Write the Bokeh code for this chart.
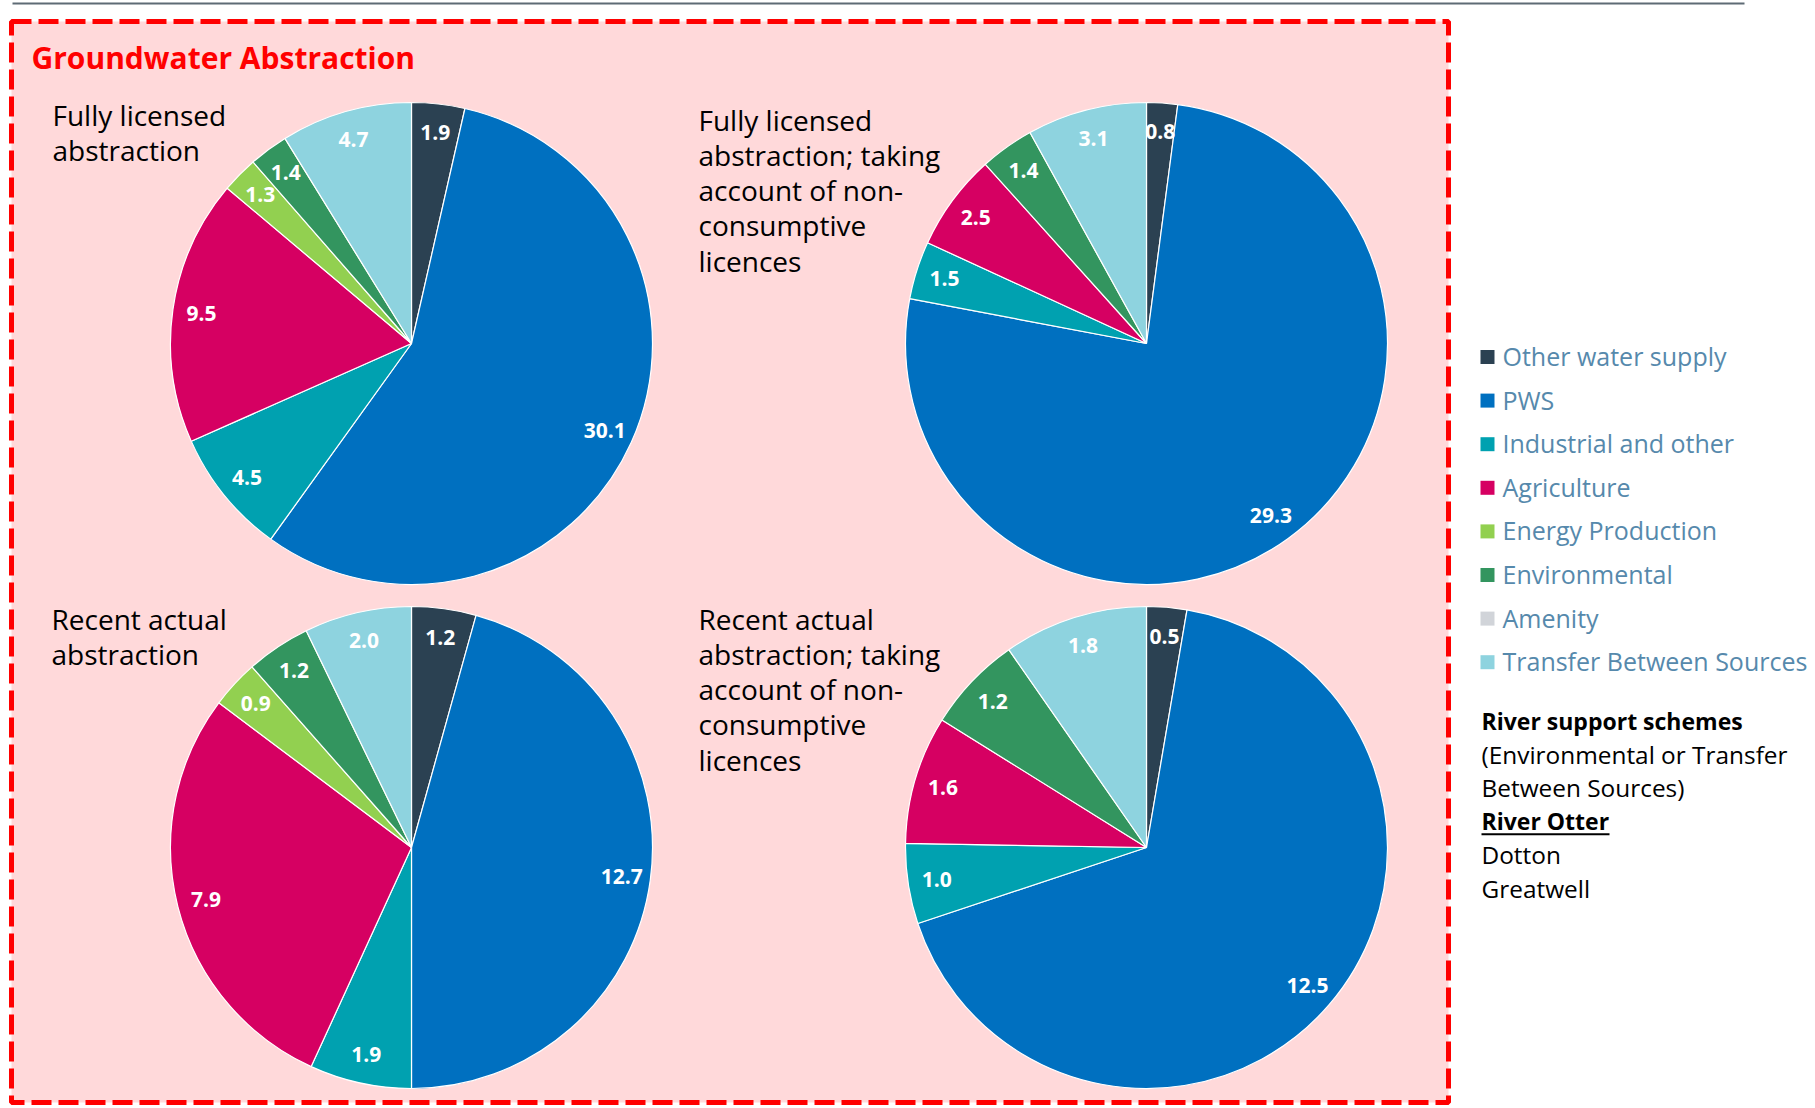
import math
from bokeh.plotting import figure
from bokeh.models import Range1d, ColumnDataSource
from bokeh.embed import file_html
from bokeh.resources import INLINE
from bokeh.core.properties import value

# ---------------- data ----------------
categories = ["Other water supply", "PWS", "Industrial and other", "Agriculture",
              "Energy Production", "Environmental", "Amenity", "Transfer Between Sources"]
colors = ["#2B4152", "#0070C0", "#00A1B0", "#D60062", "#92D050", "#33955F", "#D1D4D9", "#8ED3DF"]

fully_licensed = [1.9, 30.1, 4.5, 9.5, 1.3, 1.4, 0.0, 4.7]
fully_licensed_nc = [0.8, 29.3, 1.5, 2.5, 0.0, 1.4, 0.0, 3.1]
recent_actual = [1.2, 12.7, 1.9, 7.9, 0.9, 1.2, 0.0, 2.0]
recent_actual_nc = [0.5, 12.5, 1.0, 1.6, 0.0, 1.2, 0.0, 1.8]

title_text = "Groundwater Abstraction"
pie_titles = [
    ["Fully licensed", "abstraction"],
    ["Fully licensed", "abstraction; taking", "account of non-", "consumptive", "licences"],
    ["Recent actual", "abstraction"],
    ["Recent actual", "abstraction; taking", "account of non-", "consumptive", "licences"],
]
notes = ["River support schemes", "(Environmental or Transfer", "Between Sources)",
         "River Otter", "Dotton", "Greatwell"]

# ---------------- layout ----------------
W, H = 1812, 1106


def X(fx):
    return fx


def Y(fy):
    return H - fy


p = figure(width=W, height=H, x_range=Range1d(0, W), y_range=Range1d(0, H),
           output_backend="svg", toolbar_location=None, min_border=0,
           x_axis_type=None, y_axis_type=None)
p.grid.visible = False
p.outline_line_color = None
p.background_fill_color = "white"
p.border_fill_color = "white"

FONT = value("Open Sans")

# top divider line
p.segment(x0=[X(12)], y0=[Y(3)], x1=[X(1744)], y1=[Y(3)], line_color="#5E6B75", line_width=2)

# pink box with dashed red border
p.quad(left=[X(11)], right=[X(1448)], top=[Y(21)], bottom=[Y(1102)],
       fill_color="#FFD9DA", line_color="#FF0000", line_width=5, line_dash="20 7")

# title
p.text(x=[X(31)], y=[Y(57)], text=[title_text], text_font=FONT, text_font_style="bold",
       text_font_size=value("30px"), text_color="#FF0000", text_align="left",
       text_baseline="middle")

# pies
pie_data = [fully_licensed, fully_licensed_nc, recent_actual, recent_actual_nc]
centers = [(411, 343), (1146, 343), (411, 847), (1146, 847)]
title_pos = [(52, 114.5), (698, 119), (51, 618), (698, 618)]
R = 241
LINE_STEP = 35.3

for vals, (fcx, fcy), lines, (tx, ty) in zip(pie_data, centers, pie_titles, title_pos):
    total = sum(vals)
    cx, cy = X(fcx), Y(fcy)
    theta = 0.0
    d = dict(start=[], end=[], color=[], lx=[], ly=[], lab=[])
    for v, c in zip(vals, colors):
        if v <= 0:
            continue
        t0 = theta
        t1 = theta + v / total * 2 * math.pi
        theta = t1
        d["start"].append(math.pi / 2 - t1)
        d["end"].append(math.pi / 2 - t0)
        d["color"].append(c)
        mid = (t0 + t1) / 2
        d["lx"].append(cx + 0.88 * R * math.sin(mid))
        d["ly"].append(cy + 0.88 * R * math.cos(mid))
        d["lab"].append(f"{v:.1f}")
    src = ColumnDataSource(d)
    p.wedge(x=cx, y=cy, radius=R, start_angle="start", end_angle="end",
            fill_color="color", line_color="white", line_width=1.2, source=src)
    p.text(x="lx", y="ly", text="lab", source=src, text_font=FONT, text_font_style="bold",
           text_font_size=value("21px"), text_color="white", text_align="center",
           text_baseline="middle")
    ys = [Y(ty + i * LINE_STEP) for i in range(len(lines))]
    p.text(x=[X(tx)] * len(lines), y=ys, text=lines, text_font=FONT,
           text_font_size=value("28px"), text_color="black", text_align="left",
           text_baseline="middle")

# legend
leg_y = [Y(355.5 + i * 43.6) for i in range(len(categories))]
p.rect(x=[X(1487)] * len(categories), y=[yy - 1 for yy in leg_y], width=14, height=14,
       fill_color=colors, line_color=None)
p.text(x=[X(1502)] * len(categories), y=leg_y, text=categories, text_font=FONT,
       text_font_size=value("25px"), text_color="#5689AC", text_align="left",
       text_baseline="middle")

# notes
note_y = [Y(720 + i * 33.6) for i in range(len(notes))]
styles = ["bold", "normal", "normal", "bold", "normal", "normal"]
sizes = ["23px", "24.4px", "24.4px", "23px", "24.4px", "24.4px"]
for t, yy, st, sz in zip(notes, note_y, styles, sizes):
    p.text(x=[X(1481)], y=[yy], text=[t], text_font=FONT, text_font_style=st,
           text_font_size=value(sz), text_color="black", text_align="left",
           text_baseline="middle")
# underline for "River Otter"
p.segment(x0=[X(1481)], y0=[note_y[3] - 13], x1=[X(1609)], y1=[note_y[3] - 13],
          line_color="black", line_width=2)

open("out.html", "w").write(file_html(p, INLINE))
